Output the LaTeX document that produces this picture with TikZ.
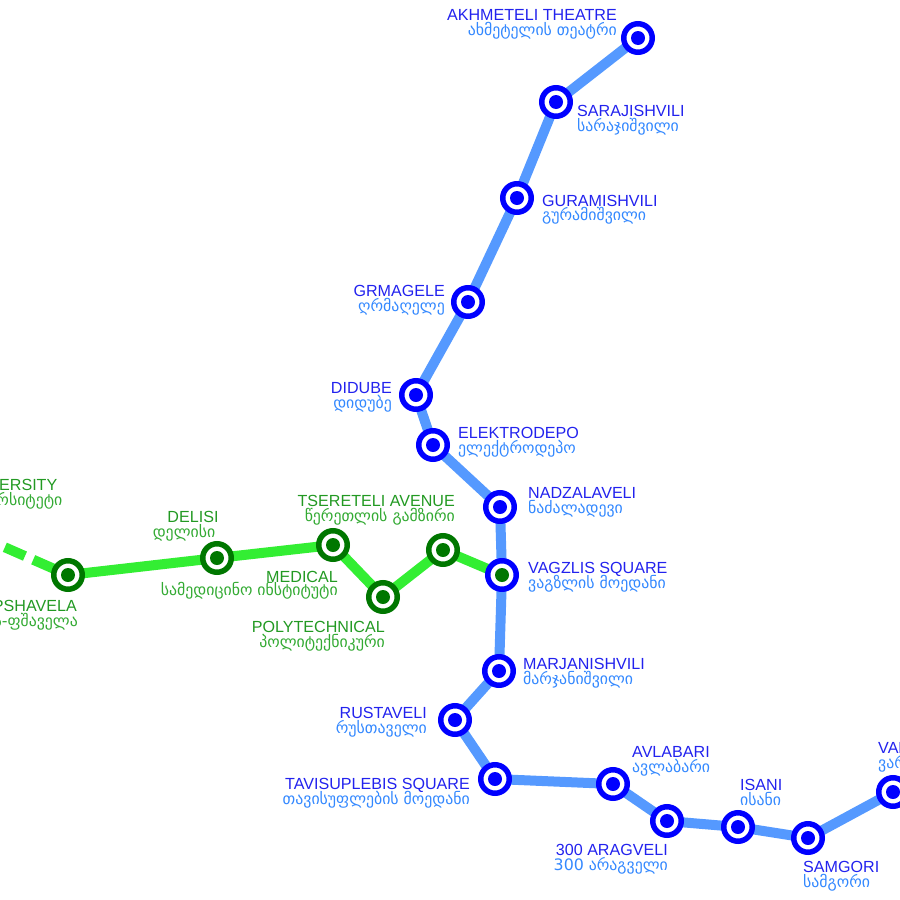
\documentclass[tikz,border=0pt]{standalone}
\usepackage{fontspec}
\setmainfont{Liberation Sans}
\newfontfamily\geo{DejaVu Sans}
\usetikzlibrary{backgrounds,calc}
\definecolor{lineblue}{HTML}{5599FF}
\definecolor{stblue}{HTML}{0000FF}
\definecolor{enblue}{HTML}{2222EE}
\definecolor{geblue}{HTML}{3388FF}
\definecolor{linegreen}{HTML}{33EE33}
\definecolor{stgreen}{HTML}{007700}
\definecolor{engreen}{HTML}{229922}
\definecolor{gegreen}{HTML}{33AA33}
\begin{document}
\begin{tikzpicture}[x=1pt,y=-1pt,
  station/.style={circle,minimum size=28.5pt,inner sep=0pt,line width=5.5pt,draw=#1,fill=white,
    path picture={\fill[#1] (path picture bounding box.center) circle (7pt);}},
  xstation/.style={circle,minimum size=28.5pt,inner sep=0pt,line width=5.5pt,draw=stblue,fill=white,
    path picture={\fill[stgreen] (path picture bounding box.center) circle (7pt);}},
  bline/.style={draw=lineblue,line width=10pt,line join=round},
  gline/.style={draw=linegreen,line width=10pt,line join=round},
  en/.style={font=\fontsize{16.1}{17}\selectfont,inner sep=0pt},
  ge/.style={font=\geo\fontsize{15.8}{17}\selectfont,inner sep=0pt},
  enb/.style={en,text=enblue}, geb/.style={ge,text=geblue},
  eng/.style={en,text=engreen}, geg/.style={ge,text=gegreen}]
\useasboundingbox (0,0) rectangle (900,900);
\clip (0,0) rectangle (900,900);

% blue stations
\node[station=stblue] (akh) at (638,38) {};
\node[station=stblue] (sar) at (556,102) {};
\node[station=stblue] (gur) at (517,198) {};
\node[station=stblue] (grm) at (468,302) {};
\node[station=stblue] (did) at (416,395) {};
\node[station=stblue] (ele) at (433,445) {};
\node[station=stblue] (nad) at (500,507) {};
\node[xstation] (vag) at (502,575) {};
\node[station=stblue] (mar) at (499,671) {};
\node[station=stblue] (rus) at (455,720) {};
\node[station=stblue] (tav) at (495,779) {};
\node[station=stblue] (avl) at (613,784) {};
\node[station=stblue] (ara) at (667,821) {};
\node[station=stblue] (isa) at (738,827) {};
\node[station=stblue] (sam) at (808,838) {};
\node[station=stblue] (var) at (893,792) {};
% green stations
\node[station=stgreen] (vaz) at (68,575) {};
\node[station=stgreen] (del) at (217,558) {};
\node[station=stgreen] (med) at (333,545) {};
\node[station=stgreen] (pol) at (383,597) {};
\node[station=stgreen] (tse) at (443,550) {};
\coordinate (uni) at (-80,510);

\begin{scope}[on background layer]
\draw[bline] (akh.center) -- (sar.center) -- (gur.center) -- (grm.center) -- (did.center)
  -- (ele.center) -- (nad.center) -- (vag.center) -- (mar.center) -- (rus.center)
  -- (tav.center) -- (avl.center) -- (ara.center) -- (isa.center) -- (sam.center) -- (var.center);
\draw[gline] (vaz.center) -- (del.center) -- (med.center) -- (pol.center) -- (tse.center) -- (vag.center);
\coordinate (p1) at ($(vaz.center)!38pt!(uni)$);
\draw[gline] (vaz.center) -- (p1);
\draw[gline,dash pattern=on 22pt off 9pt,dash phase=22pt] (p1) -- (uni);
\end{scope}

% blue labels
\node[enb,anchor=base east] (akhE) at (617,20.5) {AKHMETELI THEATRE};
\node[geb,anchor=base east] (akhG) at (617,35) {ახმეტელის თეატრი};
\node[enb,anchor=base west] (sarE) at (577,116.5) {SARAJISHVILI};
\node[geb,anchor=base west] (sarG) at (577,131) {სარაჯიშვილი};
\node[enb,anchor=base west] (gurE) at (542,206) {GURAMISHVILI};
\node[geb,anchor=base west] (gurG) at (542,220.5) {გურამიშვილი};
\node[enb,anchor=base east] (grmE) at (445,296.5) {GRMAGELE};
\node[geb,anchor=base east] (grmG) at (445,311) {ღრმაღელე};
\node[enb,anchor=base east] (didE) at (392,393.5) {DIDUBE};
\node[geb,anchor=base east] (didG) at (392,408) {დიდუბე};
\node[enb,anchor=base west] (eleE) at (458,438.5) {ELEKTRODEPO};
\node[geb,anchor=base west] (eleG) at (458,453) {ელექტროდეპო};
\node[enb,anchor=base west] (nadE) at (528,498.5) {NADZALAVELI};
\node[geb,anchor=base west] (nadG) at (528,513) {ნაძალადევი};
\node[enb,anchor=base west] (vagE) at (528,573.5) {VAGZLIS SQUARE};
\node[geb,anchor=base west] (vagG) at (528,588) {ვაგზლის მოედანი};
\node[enb,anchor=base west] (marE) at (523,669.5) {MARJANISHVILI};
\node[geb,anchor=base west] (marG) at (523,684) {მარჯანიშვილი};
\node[enb,anchor=base east] (rusE) at (427,718.5) {RUSTAVELI};
\node[geb,anchor=base east] (rusG) at (427,733) {რუსთაველი};
\node[enb,anchor=base east] (tavE) at (470,789.5) {TAVISUPLEBIS SQUARE};
\node[geb,anchor=base east] (tavG) at (470,804) {თავისუფლების მოედანი};
\node[enb,anchor=base west] (avlE) at (632,757.5) {AVLABARI};
\node[geb,anchor=base west] (avlG) at (632,772) {ავლაბარი};
\node[enb,anchor=base east] (araE) at (668,855.5) {300 ARAGVELI};
\node[geb,anchor=base east] (araG) at (668,870) {300 არაგველი};
\node[enb,anchor=base west] (isaE) at (740,790.5) {ISANI};
\node[geb,anchor=base west] (isaG) at (740,805) {ისანი};
\node[enb,anchor=base west] (samE) at (803,872.5) {SAMGORI};
\node[geb,anchor=base west] (samG) at (803,887) {სამგორი};
\node[enb,anchor=base west] (varE) at (878,753.5) {VARKETILI};
\node[geb,anchor=base west] (varG) at (878,768) {ვარკეთილი};
% green labels
\node[eng,anchor=base] (uniE) at (9,490.5) {UNIVERSITY};
\node[geg,anchor=base] (uniG) at (9,505) {უნივერსიტეტი};
\node[eng,anchor=base east] (vazE) at (77,611.5) {VAZHA-PSHAVELA};
\node[geg,anchor=base east] (vazG) at (78,626) {ვაჟა-ფშაველა};
\node[eng,anchor=base] (delE) at (193,522.5) {DELISI};
\node[geg,anchor=base] (delG) at (184,537) {დელისი};
\node[eng,anchor=base east] (medE) at (338,582.5) {MEDICAL};
\node[geg,anchor=base east] (medG) at (338,595.5) {სამედიცინო ინსტიტუტი};
\node[eng,anchor=base east] (polE) at (385,632.5) {POLYTECHNICAL};
\node[geg,anchor=base east] (polG) at (385,647) {პოლიტექნიკური};
\node[eng,anchor=base east] (tseE) at (455,506.5) {TSERETELI AVENUE};
\node[geg,anchor=base east] (tseG) at (455,521) {წერეთლის გამზირი};
\end{tikzpicture}
\end{document}
